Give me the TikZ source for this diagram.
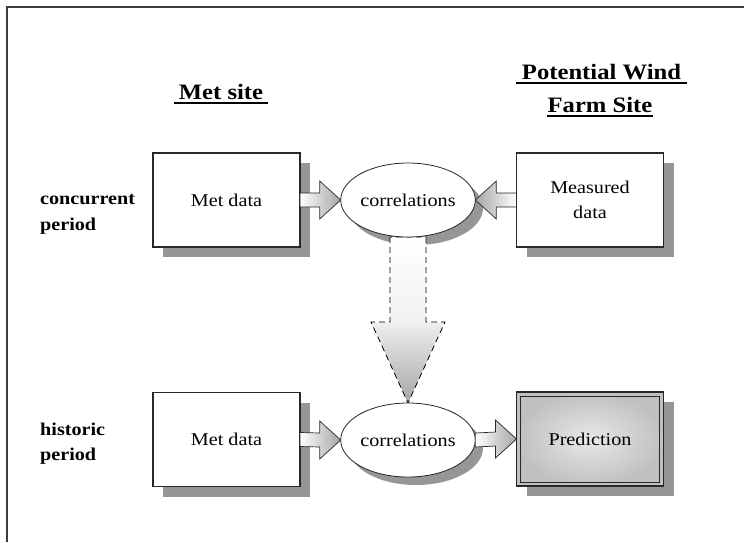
\documentclass[tikz,border=0pt]{standalone}
\usepackage{fontspec}
\setmainfont{Liberation Serif}[FakeStretch=1.12]
\usetikzlibrary{calc,shapes.geometric}
\definecolor{shadowgray}{RGB}{150,150,150}
\definecolor{linegray}{RGB}{40,40,40}
\definecolor{framegray}{RGB}{60,60,60}
\definecolor{arrowgray}{RGB}{165,165,165}
\definecolor{predin}{RGB}{232,232,232}
\definecolor{predout}{RGB}{192,192,192}
\pgfdeclarelayer{bg}
\pgfdeclarelayer{mid}
\pgfsetlayers{bg,mid,main}
\begin{document}
\begin{tikzpicture}[x=1pt,y=-1pt,
  box/.style={draw=linegray,line width=1.1pt,fill=white,minimum width=147pt,minimum height=94pt,inner sep=0pt,outer sep=0pt,align=center,font=\fontsize{18}{25}\selectfont},
  corr/.style={ellipse,draw=linegray,line width=0.8pt,fill=white,minimum width=134pt,minimum height=74pt,inner sep=0pt,outer sep=0pt,font=\fontsize{18}{22}\selectfont},
  head/.style={font=\bfseries\fontsize{22}{26}\selectfont,anchor=base,inner ysep=0pt},
  side/.style={font=\bfseries\fontsize{18}{22}\selectfont,anchor=base west,inner sep=0pt},
  ul/.style={line width=1.6pt,black},
  blockarrow/.style={draw=linegray,line width=0.7pt},
  boxshadow/.style={fill=shadowgray}
]
\useasboundingbox (0,0) rectangle (744,542);

% frame
\draw[line width=2pt,framegray] (7,542) -- (7,7) -- (744,7);

% headings
\node[head,inner xsep=5pt] (ms) at (221,99) {Met site};
\draw[ul] ([yshift=-4pt]ms.base west) -- ([yshift=-4pt]ms.base east);
\node[head,inner xsep=6pt] (pw) at (601.5,79) {Potential Wind};
\draw[ul] ([yshift=-4pt]pw.base west) -- ([yshift=-4pt]pw.base east);
\node[head,inner xsep=0pt] (fs) at (600,112) {Farm Site};
\draw[ul] ([yshift=-4pt]fs.base west) -- ([yshift=-4pt]fs.base east);

% side labels
\node[side] (cc) at (40,204) {concurrent};
\node[side] (cp) at (40,230) {period};
\node[side] (hh) at (40,435) {historic};
\node[side] (hp) at (40,460) {period};

% nodes
\node[box] (m1) at (226.5,200) {Met data};
\node[corr] (c1) at (408,200) {correlations};
\node[box] (d1) at (590,200) {Measured\\data};
\node[box] (m2) at (226.5,439.5) {Met data};
\node[corr] (c2) at (408,440) {correlations};
\node[box,shading=radial,inner color=predin,outer color=predout,line width=1.4pt] (pr) at (590,439) {Prediction};
\draw[linegray,line width=0.8pt] ([xshift=4pt,yshift=-4pt]pr.north west) rectangle ([xshift=-4pt,yshift=4pt]pr.south east);

% shadows
\begin{pgfonlayer}{bg}
\foreach \n in {m1,d1,m2,pr}{
  \fill[boxshadow] ([xshift=10pt,yshift=-10pt]\n.north west) rectangle ([xshift=10pt,yshift=-10pt]\n.south east);
}
\fill[boxshadow] ([xshift=8pt,yshift=-8pt]c1.center) ellipse [x radius=67pt,y radius=37pt];
\fill[boxshadow] ([xshift=8pt,yshift=-8pt]c2.center) ellipse [x radius=67pt,y radius=37pt];
\end{pgfonlayer}

% down arrow (dashed, behind ellipses, above shadows)
\begin{pgfonlayer}{mid}
\path[draw=black,line width=0.8pt,dash pattern=on 6pt off 4pt,top color=white,bottom color=arrowgray,middle color=white!85!arrowgray]
  ($(c1.south)+(-18,0)$) -- ($(c2.north)+(-18,-81)$) -- ($(c2.north)+(-37,-81)$) -- (c2.north)
  -- ($(c2.north)+(37,-81)$) -- ($(c2.north)+(18,-81)$) -- ($(c1.south)+(18,0)$) -- cycle;
\end{pgfonlayer}

% block arrows
\path[blockarrow,left color=white,right color=arrowgray]
  ($(m1.east)+(0,-7)$) -- ($(c1.west)+(-21,-7)$) -- ($(c1.west)+(-21,-19)$) -- (c1.west)
  -- ($(c1.west)+(-21,19)$) -- ($(c1.west)+(-21,7)$) -- ($(m1.east)+(0,7)$) -- cycle;
\path[blockarrow,left color=arrowgray,right color=white]
  ($(d1.west)+(0,-7)$) -- ($(c1.east)+(21,-7)$) -- ($(c1.east)+(21,-19)$) -- (c1.east)
  -- ($(c1.east)+(21,19)$) -- ($(c1.east)+(21,7)$) -- ($(d1.west)+(0,7)$) -- cycle;
\path[blockarrow,left color=white,right color=arrowgray]
  ($(m2.east)+(0,-7)$) -- ($(c2.west)+(-21,-7)$) -- ($(c2.west)+(-21,-19)$) -- (c2.west)
  -- ($(c2.west)+(-21,19)$) -- ($(c2.west)+(-21,7)$) -- ($(m2.east)+(0,7)$) -- cycle;
\path[blockarrow,left color=white,right color=arrowgray]
  ($(c2.east)+(0,-7)$) -- ($(pr.west)+(-21,-7)$) -- ($(pr.west)+(-21,-19)$) -- (pr.west)
  -- ($(pr.west)+(-21,19)$) -- ($(pr.west)+(-21,7)$) -- ($(c2.east)+(0,7)$) -- cycle;
\end{tikzpicture}
\end{document}
